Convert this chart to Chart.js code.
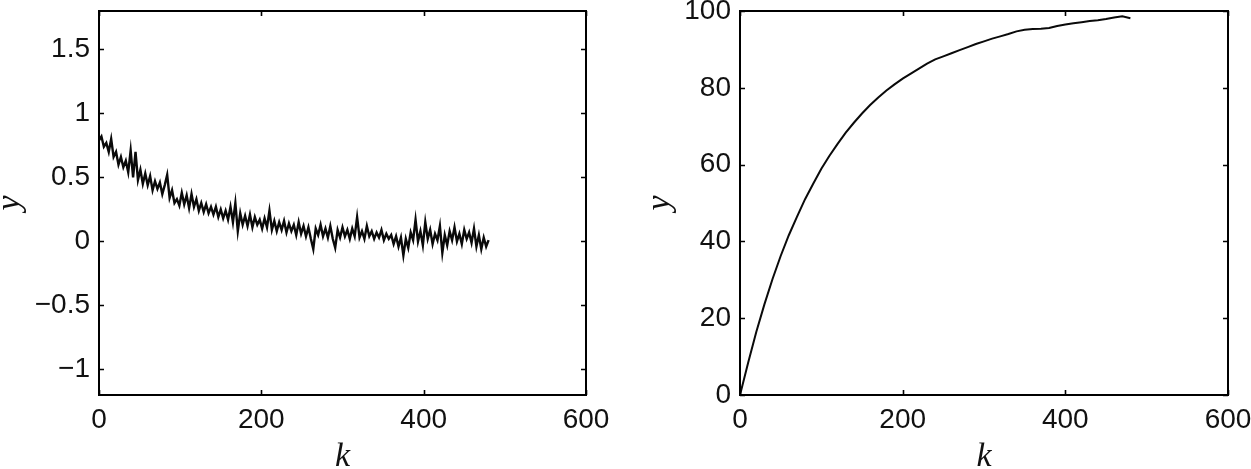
<!DOCTYPE html>
<html>
<head>
<meta charset="utf-8">
<script src="https://cdn.jsdelivr.net/npm/chart.js@4.4.1/dist/chart.umd.min.js"></script>
<style>
  html, body { margin: 0; padding: 0; background: #fff; }
  #wrap { position: relative; width: 1251px; height: 469px; overflow: hidden; }
  canvas { position: absolute; top: 0; }
  #left { left: 0; }
  #right { left: 625px; }
</style>
</head>
<body>
<div id="wrap">
  <canvas id="left" width="625" height="469"></canvas>
  <canvas id="right" width="626" height="469"></canvas>
</div>
<script>
// left panel: noisy decaying output, k = 0, 3, 6, ... 480
const kNoisy = Array.from({ length: 161 }, (_, i) => i * 3);
const yNoisy = [
  0.79, 0.82, 0.74, 0.77, 0.70, 0.80, 0.66, 0.70, 0.60, 0.66,
  0.58, 0.63, 0.54, 0.71, 0.50, 0.70, 0.48, 0.56, 0.45, 0.53,
  0.44, 0.51, 0.40, 0.47, 0.41, 0.46, 0.37, 0.44, 0.52, 0.34,
  0.40, 0.30, 0.33, 0.28, 0.38, 0.29, 0.36, 0.26, 0.37, 0.27,
  0.33, 0.24, 0.30, 0.23, 0.29, 0.22, 0.27, 0.21, 0.27, 0.19,
  0.25, 0.18, 0.24, 0.17, 0.27, 0.15, 0.30, 0.08, 0.22, 0.13,
  0.20, 0.12, 0.21, 0.11, 0.19, 0.13, 0.17, 0.10, 0.18, 0.11,
  0.24, 0.09, 0.16, 0.08, 0.15, 0.09, 0.16, 0.07, 0.14, 0.08,
  0.13, 0.05, 0.15, 0.06, 0.12, 0.04, 0.11, 0.02, -0.06, 0.10,
  0.05, 0.13, 0.04, 0.10, 0.03, 0.12, 0.02, -0.05, 0.09, 0.03,
  0.11, 0.04, 0.09, 0.02, 0.10, 0.04, 0.19, 0.03, 0.08, 0.02,
  0.12, 0.04, 0.08, 0.02, 0.07, 0.03, 0.09, 0.01, 0.06, 0.02,
  0.05, -0.02, 0.04, -0.04, 0.03, -0.11, 0.02, -0.05, 0.07, 0.01,
  0.17, 0.00, 0.08, -0.03, 0.15, 0.02, 0.09, -0.02, 0.06, 0.01,
  0.12, -0.09, 0.05, -0.03, 0.08, 0.01, 0.11, 0.00, 0.06, -0.02,
  0.09, 0.02, 0.07, -0.01, 0.10, -0.04, 0.05, -0.06, 0.03, -0.04,
  0.01
];

// right panel: smooth rising response, k = 0, 10, ... 480
const kSmooth = Array.from({ length: 49 }, (_, i) => i * 10);
const ySmooth = [
  0, 8.4, 16.4, 23.6, 30.2, 36.2, 41.6, 46.4, 51.0, 55.0,
  58.9, 62.3, 65.4, 68.3, 70.9, 73.3, 75.5, 77.5, 79.3, 80.9,
  82.4, 83.7, 85.0, 86.3, 87.4, 88.2, 89.0, 89.8, 90.6, 91.4,
  92.1, 92.8, 93.4, 94.0, 94.7, 95.1, 95.3, 95.4, 95.6, 96.1,
  96.5, 96.8, 97.1, 97.4, 97.6, 97.9, 98.3, 98.6, 98.1
];

const xTicks = [0, 200, 400, 600];
const yTicksLeft = [-1, -0.5, 0, 0.5, 1, 1.5];
const yTicksRight = [0, 20, 40, 60, 80, 100];

const tickFont = { family: 'Liberation Sans, Arial, sans-serif', size: 28 };
const titleFont = { family: 'Liberation Serif, Times New Roman, serif', size: 34, style: 'italic', lineHeight: 0.7 };

// matlab style labels: 1 not 1.0, real minus sign
const fmt = v => String(v).replace('-', '\u2212');

// box around the plot plus inward ticks on all four sides
const frame = {
  id: 'frame',
  afterDraw(chart) {
    const { ctx, chartArea: a, scales: { x, y } } = chart;
    ctx.save();
    ctx.strokeStyle = '#000';
    ctx.lineWidth = 1.6;
    ctx.beginPath();
    x.ticks.forEach(t => {
      const px = Math.round(x.getPixelForValue(t.value)) + 0.5;
      ctx.moveTo(px, a.bottom); ctx.lineTo(px, a.bottom - 5);
      ctx.moveTo(px, a.top); ctx.lineTo(px, a.top + 5);
    });
    y.ticks.forEach(t => {
      const py = Math.round(y.getPixelForValue(t.value)) + 0.5;
      ctx.moveTo(a.left, py); ctx.lineTo(a.left + 5, py);
      ctx.moveTo(a.right, py); ctx.lineTo(a.right - 5, py);
    });
    ctx.stroke();
    ctx.lineWidth = 2;
    ctx.strokeRect(a.left, a.top, a.width, a.height);
    ctx.restore();
  }
};

function makeChart(id, ks, ys, yMin, yMax, yTickVals, yAxisWidth, rightPad, yTitlePad, lineW) {
  const pts = ks.map((k, i) => ({ x: k, y: ys[i] }));
  return new Chart(document.getElementById(id), {
    type: 'line',
    data: {
      datasets: [{
        data: pts,
        borderColor: '#0a0a0a',
        borderWidth: lineW,
        pointRadius: 0,
        tension: 0,
        fill: false
      }]
    },
    options: {
      responsive: false,
      animation: false,
      layout: { padding: { top: 11, right: rightPad, left: 0, bottom: 0 } },
      plugins: { legend: { display: false }, tooltip: { enabled: false } },
      scales: {
        x: {
          type: 'linear',
          min: 0, max: 600,
          afterBuildTicks: s => { s.ticks = xTicks.map(v => ({ value: v })); },
          ticks: { font: tickFont, color: '#111', padding: 8, maxRotation: 0, callback: fmt },
          grid: { display: false, drawTicks: false },
          border: { display: false },
          title: { display: true, text: 'k', font: titleFont, color: '#111', padding: 0 },
          afterFit: s => { s.height = 74; s.paddingLeft = 0; s.paddingRight = 0; }
        },
        y: {
          type: 'linear',
          min: yMin, max: yMax,
          afterBuildTicks: s => { s.ticks = yTickVals.map(v => ({ value: v })); },
          ticks: { font: tickFont, color: '#111', padding: 9, callback: fmt },
          grid: { display: false, drawTicks: false },
          border: { display: false },
          title: { display: true, text: 'y', font: titleFont, color: '#111', padding: { top: yTitlePad, bottom: 0 } },
          afterFit: s => { s.width = yAxisWidth; s.paddingTop = 0; s.paddingBottom = 0; }
        }
      }
    },
    plugins: [frame]
  });
}

makeChart('left', kNoisy, yNoisy, -1.2, 1.8, yTicksLeft, 99, 39, -2, 2.4);
makeChart('right', kSmooth, ySmooth, 0, 100, yTicksRight, 115, 23, 23, 2);
</script>
</body>
</html>
